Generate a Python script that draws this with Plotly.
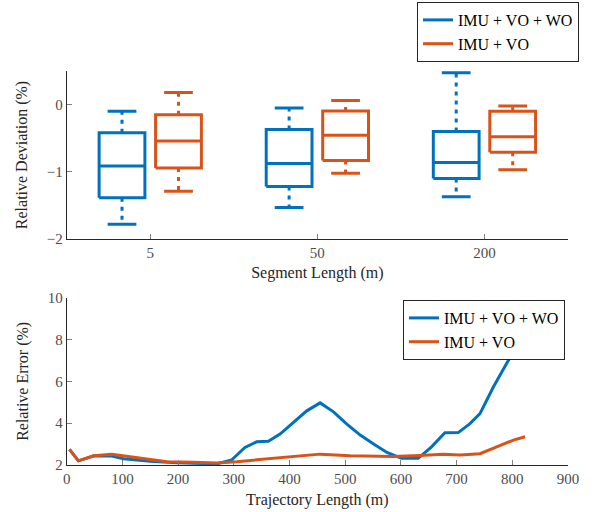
import plotly.graph_objects as go

# ---------------- data ----------------
segment_labels = ["5", "50", "200"]
series_names = ["IMU + VO + WO", "IMU + VO"]

# box statistics per segment length (lower whisker, Q1, median, Q3, upper whisker)
wo_lower = [-1.78, -1.53, -1.37]
wo_q1 = [-1.385, -1.22, -1.10]
wo_median = [-0.915, -0.875, -0.86]
wo_q3 = [-0.42, -0.37, -0.40]
wo_upper = [-0.10, -0.05, 0.475]

vo_lower = [-1.29, -1.02, -0.97]
vo_q1 = [-0.945, -0.83, -0.71]
vo_median = [-0.54, -0.455, -0.48]
vo_q3 = [-0.15, -0.095, -0.10]
vo_upper = [0.18, 0.06, -0.02]

# relative error vs trajectory length
wo_x = [5, 21, 48, 81, 102, 150, 197, 269, 296, 320, 341, 362, 383, 407, 431, 455,
        479, 503, 527, 551, 575, 601, 631, 655, 679, 703, 724, 742, 766, 790, 802, 814, 826]
wo_y = [2.75, 2.2, 2.43, 2.43, 2.3, 2.18, 2.11, 2.05, 2.24, 2.84, 3.11, 3.13, 3.48, 4.02,
        4.59, 4.97, 4.54, 3.95, 3.43, 3.0, 2.6, 2.32, 2.32, 2.87, 3.54, 3.55, 3.98, 4.46,
        5.73, 6.87, 7.4, 7.8, 8.3]
vo_x = [5, 21, 48, 81, 114, 150, 180, 227, 269, 305, 347, 401, 455, 509, 545, 586, 634,
        676, 706, 742, 772, 802, 823]
vo_y = [2.75, 2.2, 2.44, 2.51, 2.4, 2.27, 2.16, 2.13, 2.1, 2.16, 2.27, 2.4, 2.52, 2.44,
        2.41, 2.41, 2.46, 2.51, 2.48, 2.54, 2.87, 3.19, 3.35]

# ---------------- style ----------------
BLUE = "#0072BD"
ORANGE = "#D95319"
FONT = "Liberation Serif"
TICKC = "#4d4d4d"
LW = 3
BOX_OFFSET = 0.169
BOX_HALF = 0.137
CAP_HALF = 0.086

fig = go.Figure()


def add_boxes(lower, q1, med, q3, upper, color, offset, name):
    first = True
    for i in range(len(segment_labels)):
        c = i + offset
        fig.add_trace(go.Scatter(
            x=[c - BOX_HALF, c + BOX_HALF, c + BOX_HALF, c - BOX_HALF, c - BOX_HALF],
            y=[q1[i], q1[i], q3[i], q3[i], q1[i]],
            mode="lines", line=dict(color=color, width=LW),
            name=name, legendgroup=name, showlegend=first,
            xaxis="x", yaxis="y", legend="legend"))
        first = False
        fig.add_trace(go.Scatter(
            x=[c - BOX_HALF, c + BOX_HALF], y=[med[i], med[i]],
            mode="lines", line=dict(color=color, width=LW),
            showlegend=False, legendgroup=name, xaxis="x", yaxis="y"))
        fig.add_trace(go.Scatter(
            x=[c, c, None, c, c], y=[q3[i], upper[i], None, q1[i], lower[i]],
            mode="lines", line=dict(color=color, width=LW, dash="4px,5px"),
            showlegend=False, legendgroup=name, xaxis="x", yaxis="y"))
        fig.add_trace(go.Scatter(
            x=[c - CAP_HALF, c + CAP_HALF, None, c - CAP_HALF, c + CAP_HALF],
            y=[upper[i], upper[i], None, lower[i], lower[i]],
            mode="lines", line=dict(color=color, width=LW),
            showlegend=False, legendgroup=name, xaxis="x", yaxis="y"))


add_boxes(wo_lower, wo_q1, wo_median, wo_q3, wo_upper, BLUE, -BOX_OFFSET, series_names[0])
add_boxes(vo_lower, vo_q1, vo_median, vo_q3, vo_upper, ORANGE, BOX_OFFSET, series_names[1])

fig.add_trace(go.Scatter(x=wo_x, y=wo_y, mode="lines", line=dict(color=BLUE, width=LW),
                         name=series_names[0], xaxis="x2", yaxis="y2", legend="legend2"))
fig.add_trace(go.Scatter(x=vo_x, y=vo_y, mode="lines", line=dict(color=ORANGE, width=LW),
                         name=series_names[1], xaxis="x2", yaxis="y2", legend="legend2"))

axis_common = dict(
    showgrid=False, zeroline=False, showline=True, linecolor="#262626", linewidth=1,
    ticks="inside", ticklen=5, tickcolor="#7f7f7f", tickwidth=1, mirror=False,
    automargin=False,
    tickfont=dict(family=FONT, size=15, color=TICKC),
)
title_font = dict(family=FONT, size=16, color="#262626")

xdom = [66.7 / 608, 568 / 608]

fig.update_layout(
    width=608, height=512,
    margin=dict(l=0, r=0, t=0, b=0),
    paper_bgcolor="white", plot_bgcolor="white",
    font=dict(family=FONT, size=15, color="#262626"),
    xaxis=dict(domain=xdom, anchor="y", range=[-0.5, 2.5],
               tickmode="array", tickvals=[0, 1, 2], ticktext=segment_labels,
               title=dict(text="Segment Length (m)", font=title_font, standoff=6),
               **axis_common),
    yaxis=dict(domain=[1 - 239 / 512, 1 - 71 / 512], anchor="x", range=[-2, 0.5],
               tickmode="array", tickvals=[-2, -1, 0],
               title=dict(text="Relative Deviation (%)", font=title_font, standoff=15),
               **axis_common),
    xaxis2=dict(domain=xdom, anchor="y2", range=[0, 900], tickmode="linear",
                tick0=0, dtick=100,
                title=dict(text="Trajectory Length (m)", font=title_font, standoff=7),
                **axis_common),
    yaxis2=dict(domain=[1 - 465 / 512, 1 - 297.7 / 512], anchor="x2", range=[2, 10],
                tickmode="linear", tick0=2, dtick=2,
                title=dict(text="Relative Error (%)", font=title_font, standoff=15),
                **axis_common),
    legend=dict(x=417 / 608, y=1 - 2 / 512, xanchor="left", yanchor="top",
                bgcolor="white", bordercolor="#262626", borderwidth=1,
                font=dict(family=FONT, size=16, color="#000000"),
                tracegroupgap=0, itemwidth=30),
    legend2=dict(x=403 / 608, y=1 - 300 / 512, xanchor="left", yanchor="top",
                 bgcolor="white", bordercolor="#262626", borderwidth=1,
                 font=dict(family=FONT, size=16, color="#000000"),
                 tracegroupgap=0, itemwidth=30),
)

fig.write_html("out.html", config={"displayModeBar": False},
               post_script="document.body.style.margin='0';document.body.style.padding='0';")
